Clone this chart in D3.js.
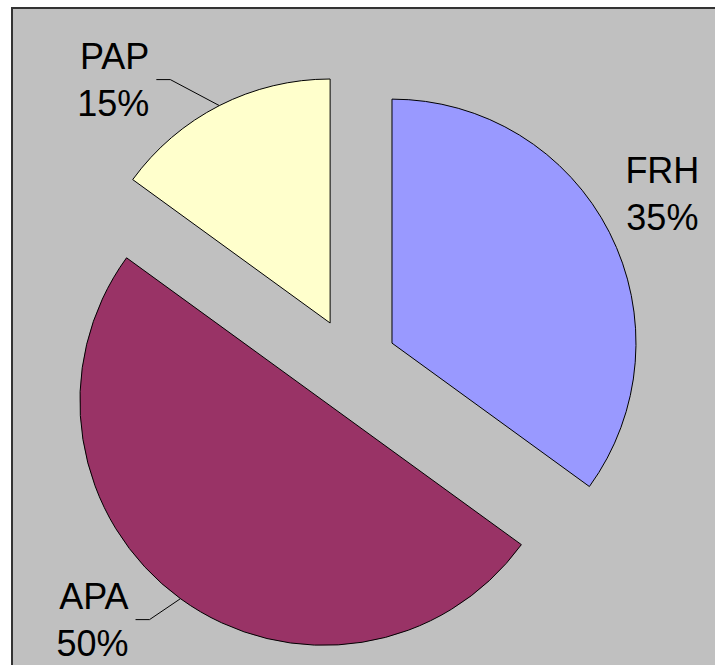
<!DOCTYPE html>
<html>
<head>
<meta charset="utf-8">
<script src="https://cdn.jsdelivr.net/npm/d3@7/dist/d3.min.js"></script>
<style>
  body { margin: 0; background: #fff; }
  text { font-family: "Liberation Sans", Arial, sans-serif; font-size: 36px; fill: #000; }
</style>
</head>
<body>
<script>
// chart data
var names = ["FRH", "APA", "PAP"];
var shares = [35, 50, 15];
var colors = ["#9999FF", "#993366", "#FFFFCC"];

var width = 715,
    height = 665,
    cx = 351,
    cy = 364,
    radius = 244,
    explode = 46;

// label placement: offset of label block from the slice's outer mid point, and whether a leader is drawn
var labelLayout = {
    FRH: { dx: 53, dy: -38, leader: false },
    APA: { dx: -31, dy: 21, leader: true },
    PAP: { dx: -49, dy: -26, leader: true }
};

var svg = d3.select(document.body).append("svg")
    .attr("width", width)
    .attr("height", height);

// plot area background
svg.append("rect")
    .attr("x", 12)
    .attr("y", 8)
    .attr("width", width + 20)
    .attr("height", height + 20)
    .attr("fill", "#C0C0C0")
    .attr("stroke", "#333")
    .attr("stroke-width", 2);

var pie = d3.pie().sort(null).value(function (d) { return d; });
var arcs = pie(shares);

var arc = d3.arc().innerRadius(0).outerRadius(radius);

function midAngle(d) {
    return (d.startAngle + d.endAngle) / 2;
}

var slices = svg.selectAll(".slice")
    .data(arcs)
    .enter().append("g")
    .attr("class", "slice")
    .attr("transform", function (d) {
        var a = midAngle(d);
        return "translate(" + (cx + explode * Math.sin(a)) + "," + (cy - explode * Math.cos(a)) + ")";
    });

slices.append("path")
    .attr("d", arc)
    .attr("fill", function (d, i) { return colors[i]; })
    .attr("stroke", "#000")
    .attr("stroke-width", 1);

slices.each(function (d, i) {
    var g = d3.select(this);
    var a = midAngle(d);
    var px = radius * Math.sin(a),
        py = -radius * Math.cos(a);
    var lay = labelLayout[names[i]];
    var ex = px + lay.dx,
        ey = py + lay.dy;
    var tx, anchor;
    if (lay.leader) {
        g.append("polyline")
            .attr("points", [[px, py], [ex, ey], [ex - 14, ey]].map(function (p) { return p.join(","); }).join(" "))
            .attr("fill", "none")
            .attr("stroke", "#000")
            .attr("stroke-width", 1);
        tx = ex - 21;
        anchor = "end";
    } else {
        tx = ex;
        anchor = "middle";
    }
    var t = g.append("text")
        .attr("text-anchor", anchor);
    t.append("tspan")
        .attr("x", tx)
        .attr("y", ey - 11)
        .text(names[i]);
    t.append("tspan")
        .attr("x", tx)
        .attr("y", ey + 36)
        .text(shares[i] + "%");
});
</script>
</body>
</html>
